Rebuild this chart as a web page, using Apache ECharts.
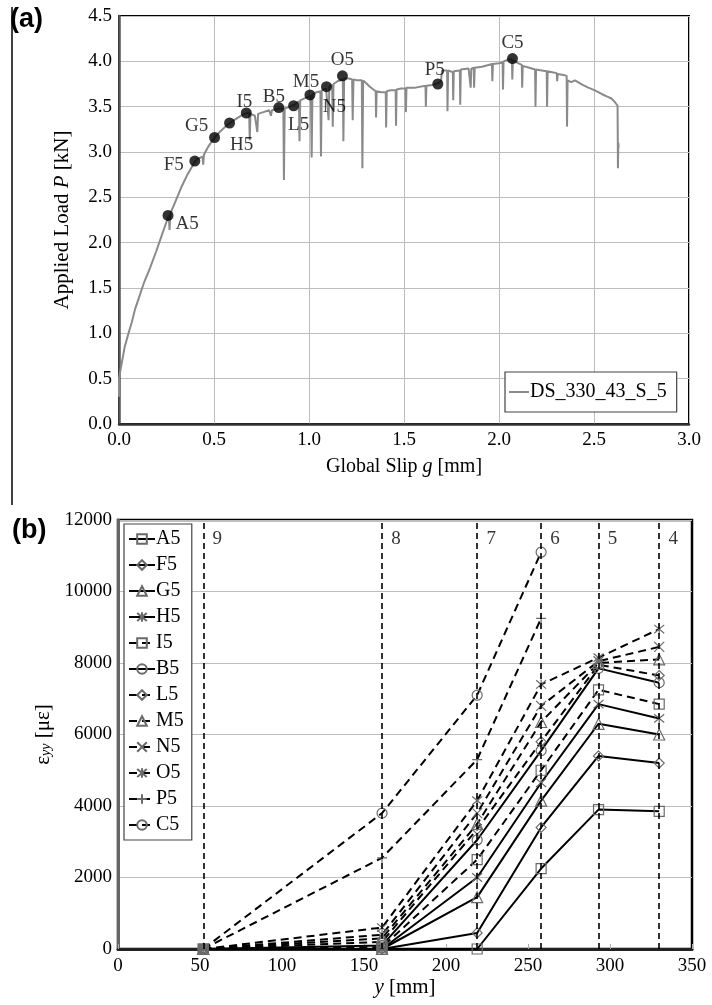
<!DOCTYPE html>
<html>
<head>
<meta charset="utf-8">
<script src="https://cdn.jsdelivr.net/npm/echarts@6/dist/echarts.min.js"></script>
<style>html,body{margin:0;padding:0;background:#fff}#c{width:712px;height:1005px}</style>
</head>
<body>
<div id="c"></div>
<script>
// ---------- (a) load-slip data ----------
const slipCurveName = 'DS_330_43_S_5';
const slipCurve = [
[0.000,0.30],[0.000,0.50],[0.010,0.62],[0.030,0.85],[0.050,1.00],[0.067,1.12],[0.085,1.27],[0.103,1.38],[0.130,1.55],[0.163,1.72],[0.195,1.90],[0.220,2.05],[0.245,2.20],[0.262,2.30],[0.266,2.14],[0.270,2.32],[0.300,2.47],[0.330,2.62],[0.360,2.75],[0.390,2.86],[0.410,2.92],[0.440,2.95],[0.443,2.86],[0.447,2.97],[0.470,3.06],[0.503,3.16],[0.530,3.22],[0.560,3.28],[0.590,3.33],[0.620,3.37],[0.650,3.41],[0.685,3.44],[0.688,3.13],[0.692,3.42],[0.715,3.40],[0.728,3.22],[0.732,3.42],[0.760,3.44],[0.790,3.46],[0.800,3.40],[0.805,3.46],[0.841,3.48],[0.865,3.48],[0.868,2.69],[0.872,3.48],[0.900,3.50],[0.930,3.53],[0.947,3.56],[0.950,3.12],[0.954,3.57],[0.985,3.60],[1.010,3.62],[1.014,2.94],[1.018,3.63],[1.040,3.66],[1.060,3.67],[1.063,2.95],[1.067,3.68],[1.090,3.70],[1.100,3.71],[1.103,3.35],[1.107,3.72],[1.122,3.74],[1.125,3.28],[1.129,3.75],[1.150,3.78],[1.178,3.80],[1.181,3.12],[1.185,3.81],[1.211,3.81],[1.227,3.80],[1.230,3.35],[1.234,3.80],[1.255,3.79],[1.278,3.79],[1.281,2.82],[1.285,3.79],[1.300,3.76],[1.320,3.72],[1.351,3.67],[1.353,3.38],[1.356,3.67],[1.380,3.66],[1.404,3.66],[1.406,3.27],[1.409,3.67],[1.430,3.68],[1.456,3.68],[1.458,3.29],[1.461,3.69],[1.485,3.70],[1.508,3.70],[1.510,3.44],[1.513,3.71],[1.560,3.71],[1.613,3.73],[1.615,3.50],[1.618,3.73],[1.650,3.74],[1.680,3.76],[1.695,3.78],[1.700,3.90],[1.727,3.90],[1.729,3.45],[1.732,3.90],[1.757,3.88],[1.759,3.57],[1.762,3.89],[1.794,3.90],[1.796,3.52],[1.799,3.91],[1.840,3.92],[1.849,3.92],[1.851,3.71],[1.854,3.92],[1.867,3.93],[1.869,3.71],[1.872,3.93],[1.910,3.94],[1.945,3.96],[1.963,3.97],[1.965,3.78],[1.968,3.97],[2.000,3.98],[2.019,3.99],[2.021,3.69],[2.024,4.00],[2.050,4.02],[2.068,4.02],[2.070,3.80],[2.073,4.01],[2.100,3.98],[2.120,3.96],[2.122,3.71],[2.125,3.95],[2.160,3.93],[2.190,3.91],[2.192,3.50],[2.195,3.91],[2.225,3.90],[2.251,3.89],[2.253,3.50],[2.256,3.89],[2.280,3.88],[2.304,3.87],[2.306,3.78],[2.309,3.86],[2.340,3.85],[2.356,3.84],[2.358,3.28],[2.361,3.79],[2.380,3.77],[2.400,3.79],[2.440,3.74],[2.470,3.71],[2.505,3.68],[2.540,3.64],[2.570,3.61],[2.592,3.59],[2.610,3.55],[2.624,3.51],[2.626,2.82],[2.628,3.10],[2.630,3.05]
];
const stageNames = ['A5','F5','G5','H5','I5','B5','L5','M5','N5','O5','P5','C5'];
const stageSlip  = [0.258,0.399,0.503,0.582,0.670,0.841,0.919,1.005,1.092,1.176,1.678,2.071];
const stageLoad  = [2.30,2.90,3.16,3.32,3.43,3.49,3.51,3.63,3.72,3.84,3.75,4.03];
const aXTicks = {min:0, max:3.0, interval:0.5};
const aYTicks = {min:0, max:4.5, interval:0.5};

// ---------- (b) strain data ----------
const gaugePos    = [52, 161, 219, 258, 293, 330];
const gaugeLabels = ['9','8','7','6','5','4'];
const strainA5 = [0, 0, 0, 2250, 3900, 3850];
const strainF5 = [0, 0, 450, 3400, 5400, 5200];
const strainG5 = [0, 0, 1450, 4150, 6300, 6000];
const strainH5 = [0, 0, 2000, 4650, 6850, 6450];
const strainI5 = [0, 50, 2500, 5000, 7250, 6850];
const strainB5 = [0, 100, 3050, 5550, 7850, 7450];
const strainL5 = [0, 200, 3350, 5800, 7950, 7650];
const strainM5 = [0, 300, 3500, 6350, 8000, 8100];
const strainN5 = [0, 400, 3800, 6800, 8050, 8450];
const strainO5 = [0, 600, 4150, 7400, 8150, 8950];
const strainP5 = [0, 2550, 5300, 9250];
const strainC5 = [0, 3800, 7100, 11100];
const bXTicks = {min:0, max:350, interval:50};
const bYTicks = {min:0, max:12000, interval:2000};

const SERIF = "'Liberation Serif','Times New Roman',serif";
const X_PATH = 'path://M0,0L10,10M10,0L0,10';
const PLUS_PATH = 'path://M5,0L5,10M0,5L10,5';
const STAR_PATH = 'path://M0,0L10,10M10,0L0,10M5,-1L5,11';

const bSpecs = [
  ['A5', strainA5, 'rect', false],
  ['F5', strainF5, 'diamond', false],
  ['G5', strainG5, 'triangle', false],
  ['H5', strainH5, STAR_PATH, false],
  ['I5', strainI5, 'rect', true],
  ['B5', strainB5, 'circle', false],
  ['L5', strainL5, 'diamond', true],
  ['M5', strainM5, 'triangle', true],
  ['N5', strainN5, X_PATH, true],
  ['O5', strainO5, STAR_PATH, true],
  ['P5', strainP5, PLUS_PATH, true],
  ['C5', strainC5, 'circle', true]
];

const labelOffsets = {
  A5:[19,9], F5:[-21,4], G5:[-18,-11], H5:[12,22], I5:[-2,-11], B5:[-5,-11],
  L5:[5,19], M5:[-4,-13], N5:[8,20], O5:[0,-16], P5:[-3,-14], C5:[0,-16]
};

const series = [];
series.push({
  name: slipCurveName, type:'line', xAxisIndex:0, yAxisIndex:0,
  data: slipCurve, symbol:'none', showSymbol:false,
  lineStyle:{color:'#8a8a8a', width:2}, itemStyle:{color:'#8a8a8a'}, z:2
});
series.push({
  name:'stages', type:'scatter', xAxisIndex:0, yAxisIndex:0,
  data: stageNames.map((n,i)=>({name:n, value:[stageSlip[i], stageLoad[i]],
    label:{offset: labelOffsets[n]}})),
  symbol:'circle', symbolSize:11, itemStyle:{color:'#000'}, z:5,
  label:{show:true, position:'inside', formatter:p=>p.name,
    fontFamily:SERIF, fontSize:19, color:'#000'}
});
bSpecs.forEach(([name, vals, sym, dashed])=>{
  series.push({
    name, type:'line', xAxisIndex:1, yAxisIndex:1,
    data: vals.map((v,i)=>[gaugePos[i], v]),
    symbol: sym, symbolSize: (sym==='triangle'?11:10),
    showSymbol:true, z:4,
    lineStyle:{color:'#000', width:2, type: dashed ? [8,5] : 'solid'},
    itemStyle:{color:'rgba(255,255,255,0)', borderColor:'#6a6a6a', borderWidth:1.2}
  });
});
series.push({
  name:'gauges', type:'scatter', xAxisIndex:1, yAxisIndex:1,
  data: gaugePos.map((x,i)=>({name:gaugeLabels[i], value:[x, 11480]})),
  symbolSize:1, itemStyle:{color:'rgba(0,0,0,0)'}, z:3,
  label:{show:true, position:'inside', offset:[14,0], formatter:p=>p.name,
    fontFamily:SERIF, fontSize:19, color:'#000'},
  markLine:{silent:true, symbol:['none','none'], label:{show:false},
    lineStyle:{type:[6,4], color:'#000', width:1.6},
    data: gaugePos.map(x=>({xAxis:x}))}
});

const axisLbl = {fontFamily:SERIF, fontSize:19, color:'#000'};
const option = {
  animation:false,
  backgroundColor:'#fff',
  title:[
    {text:'(a)', left:5, top:1, textStyle:{fontFamily:"'Liberation Sans',Arial,sans-serif", fontWeight:'bold', fontSize:27, color:'#000'}},
    {text:'(b)', left:7, top:512, textStyle:{fontFamily:"'Liberation Sans',Arial,sans-serif", fontWeight:'bold', fontSize:27, color:'#000'}}
  ],
  graphic:[{type:'line', shape:{x1:12,y1:7,x2:12,y2:505}, style:{stroke:'#000', lineWidth:1.5}}],
  grid:[
    {left:119, right:23, top:16, bottom:581, show:true, borderColor:'#000', borderWidth:2},
    {left:118, right:20, top:520, bottom:56, show:true, borderColor:'#000', borderWidth:2.5}
  ],
  legend:[
    {data:[{name:slipCurveName, icon:'rect'}], left:505, top:372, orient:'vertical',
     itemWidth:20, itemHeight:2, itemGap:0, padding:[10,10,10,4],
     borderColor:'#444', borderWidth:1.2, backgroundColor:'#fff',
     itemStyle:{color:'#8a8a8a'},
     textStyle:{fontFamily:SERIF, fontSize:20, color:'#000', padding:[0,0,0,-4]}},
    {data:stageNames, left:124, top:524, orient:'vertical',
     itemWidth:26, itemHeight:12, itemGap:6, padding:[5,8,5,4],
     borderColor:'#444', borderWidth:1.2, backgroundColor:'#fff',
     textStyle:{fontFamily:SERIF, fontSize:20, color:'#000', padding:[0,0,0,-4]}}
  ],
  xAxis:[
    {gridIndex:0, type:'value', min:aXTicks.min, max:aXTicks.max, interval:aXTicks.interval,
     axisLine:{onZero:false, lineStyle:{color:'#333', width:2.5}}, axisTick:{show:false},
     axisLabel:{...axisLbl, margin:7, formatter:v=>v.toFixed(1)},
     splitLine:{show:true, lineStyle:{color:'#bdbdbd', width:1}},
     name:'{n|Global Slip }{i|g}{n| [mm]}', nameLocation:'middle', nameGap:33,
     nameTextStyle:{rich:{n:{fontFamily:SERIF, fontSize:20, color:'#000'}, i:{fontFamily:SERIF, fontSize:20, fontStyle:'italic', color:'#000'}}}},
    {gridIndex:1, type:'value', min:bXTicks.min, max:bXTicks.max, interval:bXTicks.interval,
     axisLine:{onZero:false, lineStyle:{color:'#222', width:3}},
     axisTick:{show:true, inside:true, length:5, lineStyle:{color:'#aaa'}},
     axisLabel:{...axisLbl, margin:8, formatter:v=>String(v)},
     splitLine:{show:false},
     name:'{i|y}{n| [mm]}', nameLocation:'middle', nameGap:24,
     nameTextStyle:{rich:{n:{fontFamily:SERIF, fontSize:21, color:'#000'}, i:{fontFamily:SERIF, fontSize:21, fontStyle:'italic', color:'#000'}}}}
  ],
  yAxis:[
    {gridIndex:0, type:'value', min:aYTicks.min, max:aYTicks.max, interval:aYTicks.interval,
     axisLine:{show:true, onZero:false, lineStyle:{color:'#555', width:2.5}}, axisTick:{show:false},
     axisLabel:{...axisLbl, margin:7, formatter:v=>v.toFixed(1)},
     splitLine:{show:true, lineStyle:{color:'#bdbdbd', width:1}},
     name:'{n|Applied Load }{i|P}{n| [kN]}', nameLocation:'middle', nameGap:46,
     nameTextStyle:{rich:{n:{fontFamily:SERIF, fontSize:21, color:'#000'}, i:{fontFamily:SERIF, fontSize:21, fontStyle:'italic', color:'#000'}}}},
    {gridIndex:1, type:'value', min:bYTicks.min, max:bYTicks.max, interval:bYTicks.interval,
     axisLine:{show:true, onZero:false, lineStyle:{color:'#666', width:3}}, axisTick:{show:false},
     axisLabel:{...axisLbl, margin:6, formatter:v=>String(v)},
     splitLine:{show:true, lineStyle:{color:'#bdbdbd', width:1}},
     name:'{e|ε}{s|yy}{e| [με]}', nameLocation:'middle', nameGap:56,
     nameTextStyle:{rich:{e:{fontFamily:SERIF, fontSize:21, color:'#000', lineHeight:26, verticalAlign:'bottom'},
       s:{fontFamily:SERIF, fontSize:14, fontStyle:'italic', color:'#000', lineHeight:14, verticalAlign:'bottom'}}}}
  ],
  series
};
const chart = echarts.init(document.getElementById('c'), null, {renderer:'canvas'});
chart.setOption(option);
</script>
</body>
</html>
